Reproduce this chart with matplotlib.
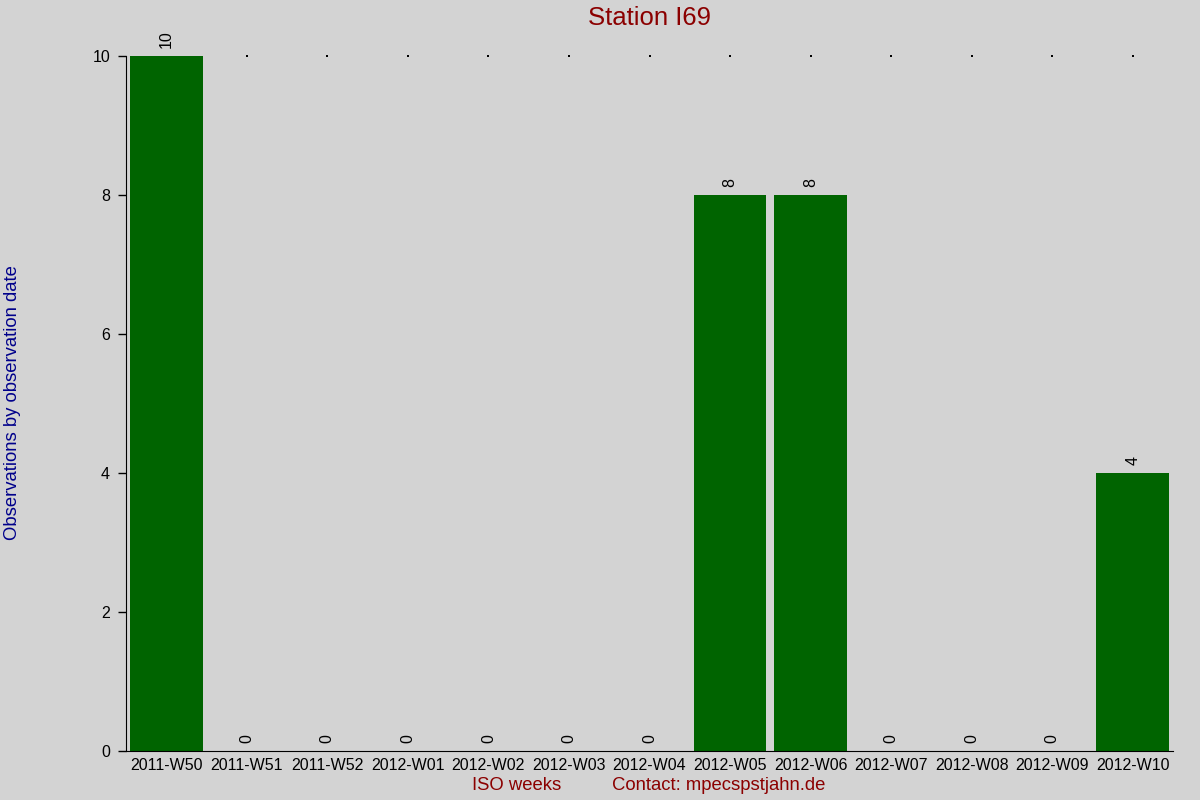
import matplotlib
matplotlib.use("Agg")
import matplotlib.pyplot as plt
import numpy as np

weeks = ["2011-W50", "2011-W51", "2011-W52", "2012-W01", "2012-W02", "2012-W03",
         "2012-W04", "2012-W05", "2012-W06", "2012-W07", "2012-W08", "2012-W09", "2012-W10"]
counts = [10, 0, 0, 0, 0, 0, 0, 8, 8, 0, 0, 0, 4]
yticks = [0, 2, 4, 6, 8, 10]

plt.rcParams['font.family'] = ['Liberation Sans', 'DejaVu Sans']
bg = '#d3d3d3'
fig = plt.figure(figsize=(12, 8), dpi=100, facecolor=bg)
ax = fig.add_axes([0.105, 0.06125, 0.8725, 0.86875], facecolor=bg)

x = np.arange(len(weeks))
ax.bar(x, counts, width=0.9, color='#006400', edgecolor='none', zorder=2)
ax.set_xlim(-0.5, len(weeks) - 0.5)
ax.set_ylim(0, max(yticks))

# tiny dots at the top of every column that does not reach the top
top = max(yticks)
dx = [xi for xi, c in zip(x, counts) if c < top]
ax.scatter(dx, [top] * len(dx), s=0.6, color='black', marker='s', linewidths=0,
           clip_on=False, zorder=1)

for xi, c in zip(x, counts):
    ax.annotate(str(c), (xi, c), xytext=(0, 6), textcoords='offset points',
                rotation=90, ha='center', va='bottom', fontsize=11.5, color='black')

ax.set_xticks(x)
ax.set_xticklabels(weeks, fontsize=11.5)
ax.set_yticks(yticks)
ax.tick_params(axis='y', length=6, width=1, pad=5.5, labelsize=11.5, direction='out')
ax.tick_params(axis='x', length=0, pad=5, labelsize=11.5)
ax.spines['top'].set_visible(False)
ax.spines['right'].set_visible(False)

fig.text(649.5 / 1200, 1 - 18 / 800, "Station I69", ha='center', va='center', fontsize=18.5, color='#8b0000')
fig.text(517 / 1200, 1 - 786 / 800, "ISO weeks", ha='center', va='center', fontsize=13.3, color='#8b0000')
fig.text(719 / 1200, 1 - 786 / 800, "Contact: mpecspstjahn.de", ha='center', va='center', fontsize=13.3, color='#8b0000')
fig.text(13 / 1200, 1 - 403 / 800, "Observations by observation date", ha='center', va='center',
         rotation=90, fontsize=13.3, color='#00008b')

fig.savefig("out.png", dpi=100, facecolor=bg)
